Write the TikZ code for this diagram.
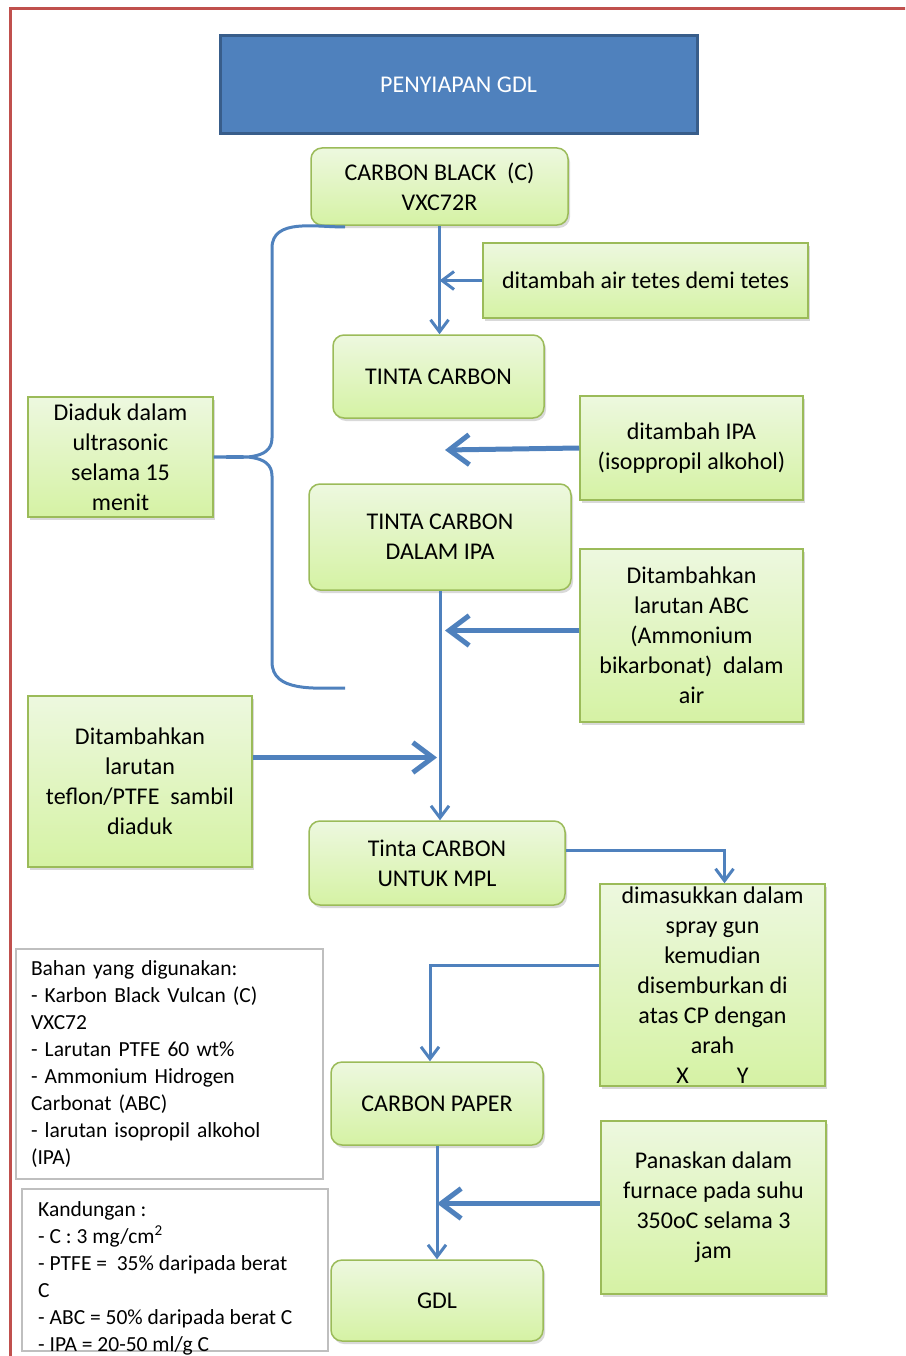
\documentclass[tikz,border=0pt]{standalone}
\usepackage{fontspec}
\setmainfont{Carlito}
\usetikzlibrary{arrows.meta,shadows}

\definecolor{framered}{HTML}{C0504D}
\definecolor{flowblue}{HTML}{4F81BD}
\definecolor{titleline}{HTML}{385D8A}
\definecolor{boxline}{HTML}{9BBB59}
\definecolor{boxtop}{HTML}{EDF8DF}
\definecolor{boxbot}{HTML}{D5F2A4}
\definecolor{notegray}{HTML}{BFBFBF}

\tikzset{
  stepround/.style={draw=boxline, line width=1.5pt, rounded corners=11pt,
    top color=boxtop, bottom color=boxbot, align=center, inner sep=0pt,
    font=\fontsize{24}{30}\selectfont,
    drop shadow={shadow xshift=2pt, shadow yshift=-3pt, opacity=0.3}},
  stepsquare/.style={stepround, rounded corners=0pt},
  notebox/.style={draw=notegray, line width=1.5pt, inner sep=0pt},
  notetext/.style={align=left, inner sep=0pt, font=\fontsize{21.5}{27}\selectfont},
  flow/.style={draw=flowblue, line width=3pt,
    -{Straight Barb[length=12pt,width=18pt]}},
  feed/.style={draw=flowblue, line width=5pt,
    -{Straight Barb[length=20pt,width=30pt]}},
}

\begin{document}
\begin{tikzpicture}[x=100pt,y=100pt]
                      \useasboundingbox (0,0) rectangle (9.05,-13.56);
                      \clip (0,0) rectangle (9.05,-13.56);
                      \draw[framered, line width=3pt] (0.10,-0.09) rectangle (9.30,-13.80);
                      \node[draw=titleline, line width=3pt, fill=flowblue, text=white,
                        minimum width=477pt, minimum height=98pt,
                        font=\fontsize{24}{30}\selectfont] (Title) at (4.585,-0.85) {PENYIAPAN GDL};
                      \node[stepround, minimum width=257pt, minimum height=77pt] (CB) at (4.395,-1.865) {CARBON BLACK\ \ (C)\\VXC72R};
                      \node[stepround, minimum width=211pt, minimum height=83pt] (TC) at (4.385,-3.765) {TINTA CARBON};
                      \node[stepround, minimum width=262pt, minimum height=106pt] (TCI) at (4.40,-5.37) {TINTA CARBON\\DALAM IPA};
                      \node[stepround, minimum width=256pt, minimum height=84pt] (TCM) at (4.37,-8.63) {Tinta CARBON\\UNTUK MPL};
                      \node[stepround, minimum width=212pt, minimum height=83pt] (CP) at (4.37,-11.035) {CARBON PAPER};
                      \node[stepround, minimum width=212pt, minimum height=81pt] (GDL) at (4.37,-13.005) {GDL};
                      \node[stepsquare, minimum width=325pt, minimum height=75pt] (Air) at (6.455,-2.805) {ditambah air tetes demi tetes};
                      \node[stepsquare, minimum width=223pt, minimum height=104pt] (IPA) at (6.915,-4.48) {ditambah IPA\\(isoppropil alkohol)};
                      \node[stepsquare, minimum width=223pt, minimum height=173pt] (ABC) at (6.915,-6.355) {Ditambahkan\\larutan ABC\\(Ammonium\\bikarbonat)\ \ dalam\\air};
                      \node[stepsquare, minimum width=185pt, minimum height=120pt] (Diaduk) at (1.205,-4.57) {Diaduk dalam\\ultrasonic\\selama 15\\menit};
                      \node[stepsquare, minimum width=224pt, minimum height=171pt] (Teflon) at (1.40,-7.815) {Ditambahkan\\larutan\\teflon/PTFE\ \ sambil\\diaduk};
                      \node[stepsquare, minimum width=225pt, minimum height=202pt] (Spray) at (7.125,-9.85) {dimasukkan dalam\\spray gun\\kemudian\\disemburkan di\\atas CP dengan\\arah\\X\hspace{48pt}Y};
                      \node[stepsquare, minimum width=225pt, minimum height=173pt] (Panas) at (7.135,-12.075) {Panaskan dalam\\furnace pada suhu\\350oC selama 3\\jam};
                      \node[notebox, notetext, minimum width=307pt, minimum height=230pt, text width=277pt] (Bahan) at (1.695,-10.64) {Bahan yang digunakan:\\- Karbon Black Vulcan (C)\\VXC72\\- Larutan PTFE 60 wt\%\\- Ammonium Hidrogen\\Carbonat (ABC)\\- larutan isopropil alkohol\\(IPA)};
                      \node[notebox, minimum width=306pt, minimum height=162pt, anchor=north west] (KandBox) at (0.21,-11.88) {};
                      \node[notetext, anchor=north west] (Kand) at (0.38,-12.01) {Kandungan :\\- C : 3 mg/cm\textsuperscript{2}\\- PTFE =\ \ 35\% daripada berat\\C\\- ABC = 50\% daripada berat C\\- IPA = 20-50 ml/g C};
                      \coordinate (BraceTop) at (3.45,-2.27);
                      \coordinate (BraceBot) at (3.45,-6.88);
                      \coordinate (IPAEnd) at (4.45,-4.50);
                      \coordinate (ABCOut) at ([yshift=5pt]ABC.west);
                      \coordinate (TefOut) at ([yshift=24pt]Teflon.east);
                      \coordinate (PanasOut) at ([yshift=4pt]Panas.west);
                      \draw[flowblue, line width=3pt] (BraceTop) to[out=180,in=90] (2.72,-2.48) -- (2.72,-4.38)
                        to[out=-90,in=0] (Diaduk.east) to[out=0,in=90] (2.72,-4.76) -- (2.72,-6.62) to[out=-90,in=180] (BraceBot);
                      \draw[flow] (CB.south) -- (CB.south |- TC.north);
                      \draw[flow] (Air.west) -- (CB.south |- Air.west);
                      \draw[feed] (IPA.west) -- (IPAEnd);
                      \draw[flow] (TCI.south) -- (TCI.south |- TCM.north);
                      \draw[feed] (ABCOut) -- ([xshift=5pt]TCI.south |- ABCOut);
                      \draw[feed] (TefOut) -- ([xshift=-3pt]TCI.south |- TefOut);
                      \draw[flow] ([yshift=13pt]TCM.east) -| ([xshift=12pt]Spray.north);
                      \draw[flow] ([yshift=20pt]Spray.west) -| ([xshift=-7pt]CP.north);
                      \draw[flow] (CP.south) -- (GDL.north);
                      \draw[feed] (PanasOut) -- (CP.south |- PanasOut);
                    \end{tikzpicture}
\end{document}
